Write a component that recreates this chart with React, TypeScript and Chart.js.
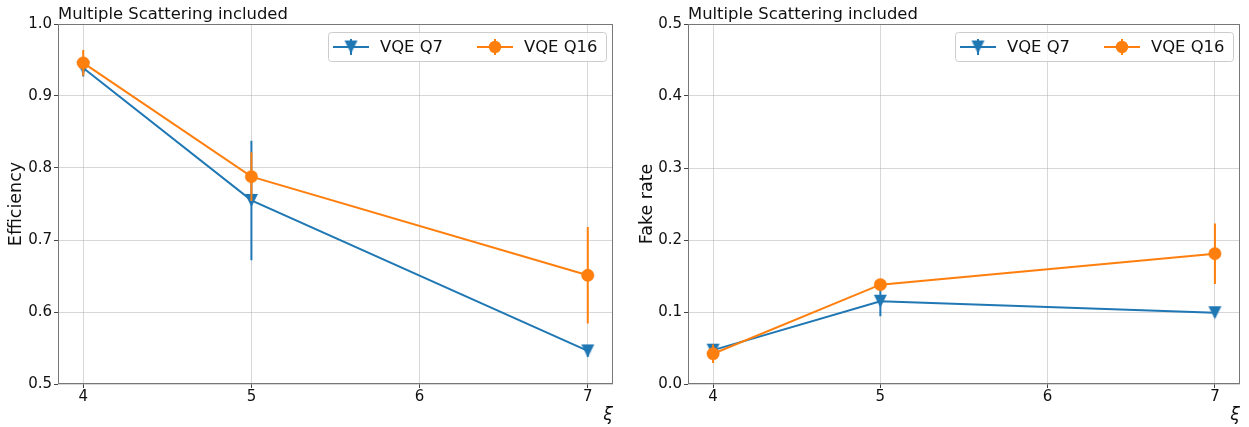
import React, { useEffect, useRef } from "react";
import { Chart, registerables } from "chart.js";

Chart.register(...registerables);

// ---------- data ----------
const xValues = [4, 5, 7];
const seriesNames = ["VQE Q7", "VQE Q16"];

const effQ7 = [0.939, 0.755, 0.546];
const effQ7Err = [0.012, 0.083, 0.008];
const effQ16 = [0.946, 0.788, 0.651];
const effQ16Err = [0.018, 0.034, 0.067];

const fakeQ7 = [0.047, 0.115, 0.099];
const fakeQ7Err = [0.008, 0.021, 0.006];
const fakeQ16 = [0.042, 0.138, 0.181];
const fakeQ16Err = [0.013, 0.006, 0.042];

const xTicks = [4, 5, 6, 7];
const effTicks = [0.5, 0.6, 0.7, 0.8, 0.9, 1.0];
const fakeTicks = [0.0, 0.1, 0.2, 0.3, 0.4, 0.5];

const panelTitle = "Multiple Scattering included";
const xLabel = "ξ";
const effLabel = "Efficiency";
const fakeLabel = "Fake rate";

// ---------- styles ----------
const BLUE = "#1f77b4";
const ORANGE = "#ff7f0e";
const FONT = "DejaVu Sans";
const TEXT = "#111111";
const W = 624;
const H = 427;

function makeTriangle(color: string, size: number): HTMLCanvasElement {
  const c = document.createElement("canvas");
  const s = size + 2;
  c.width = s;
  c.height = s;
  const g = c.getContext("2d")!;
  g.fillStyle = color;
  g.beginPath();
  g.moveTo(1, 1);
  g.lineTo(1 + size, 1);
  g.lineTo(s / 2, 1 + size);
  g.closePath();
  g.fill();
  return c;
}

function drawLegend(ctx: CanvasRenderingContext2D, area: any, tri: HTMLCanvasElement) {
  const w = 278;
  const h = 29;
  const x = area.right - 7 - w;
  const y = area.top + 8;
  ctx.save();
  ctx.beginPath();
  (ctx as any).roundRect(x + 0.5, y + 0.5, w, h, 3);
  ctx.fillStyle = "rgba(255,255,255,0.8)";
  ctx.fill();
  ctx.strokeStyle = "#cccccc";
  ctx.lineWidth = 1;
  ctx.stroke();
  const cy = y + h / 2 + 0.5;
  const entries = [
    { color: BLUE, marker: "tri", hx: x + 5, tx: x + 52, label: seriesNames[0] },
    { color: ORANGE, marker: "circle", hx: x + 149, tx: x + 196, label: seriesNames[1] },
  ];
  for (const e of entries) {
    const mx = e.hx + 18;
    ctx.strokeStyle = e.color;
    ctx.lineWidth = 2;
    ctx.beginPath();
    ctx.moveTo(e.hx, cy);
    ctx.lineTo(e.hx + 36, cy);
    ctx.moveTo(mx, cy - 8);
    ctx.lineTo(mx, cy + 8);
    ctx.stroke();
    if (e.marker === "tri") {
      ctx.drawImage(tri, mx - tri.width / 2, cy - tri.height / 2);
    } else {
      ctx.fillStyle = e.color;
      ctx.beginPath();
      ctx.arc(mx, cy, 6.2, 0, Math.PI * 2);
      ctx.fill();
    }
    ctx.fillStyle = TEXT;
    ctx.font = `16.4px "${FONT}"`;
    ctx.textAlign = "left";
    ctx.textBaseline = "middle";
    ctx.fillText(e.label, e.tx, cy + 1);
  }
  ctx.restore();
}

interface PanelProps {
  left: number;
  areaLeft: number;
  padRight: number;
  yLabel: string;
  yLabelPad: number;
  yTicks: number[];
  q7: number[];
  q7Err: number[];
  q16: number[];
  q16Err: number[];
}

function Panel(props: PanelProps) {
  const ref = useRef<HTMLCanvasElement | null>(null);
  useEffect(() => {
    const canvas = ref.current!;
    const tri = makeTriangle(BLUE, 13);

    const errorBars = {
      id: "errorBars",
      beforeDatasetDraw(chart: any, args: any) {
        const ds = chart.data.datasets[args.index];
        const errs: number[] = ds.errors;
        const ys = chart.scales.y;
        const ctx = chart.ctx;
        const a = chart.chartArea;
        ctx.save();
        ctx.beginPath();
        ctx.rect(a.left, a.top, a.right - a.left, a.bottom - a.top);
        ctx.clip();
        ctx.strokeStyle = ds.borderColor;
        ctx.lineWidth = 2;
        ctx.beginPath();
        args.meta.data.forEach((pt: any, i: number) => {
          const v = ds.data[i].y;
          ctx.moveTo(pt.x, ys.getPixelForValue(v + errs[i]));
          ctx.lineTo(pt.x, ys.getPixelForValue(v - errs[i]));
        });
        ctx.stroke();
        ctx.restore();
      },
    };

    const decorations = {
      id: "decorations",
      afterDraw(chart: any) {
        const ctx = chart.ctx as CanvasRenderingContext2D;
        const a = chart.chartArea;
        ctx.save();
        // frame
        ctx.strokeStyle = "#777777";
        ctx.lineWidth = 1;
        ctx.strokeRect(Math.round(a.left) + 0.5, Math.round(a.top) + 0.5, Math.round(a.right - a.left) - 1, Math.round(a.bottom - a.top) - 1);
        // title
        ctx.fillStyle = TEXT;
        ctx.font = `16.4px "${FONT}"`;
        ctx.textAlign = "left";
        ctx.textBaseline = "alphabetic";
        ctx.fillText(panelTitle, a.left, a.top - 5);
        // x label
        ctx.font = `italic 17.5px "${FONT}"`;
        ctx.textAlign = "right";
        ctx.textBaseline = "middle";
        ctx.fillText(xLabel, a.right, 415);
        ctx.restore();
        drawLegend(ctx, a, tri);
      },
    };

    const chart = new Chart(canvas, {
      type: "line",
      data: {
        datasets: [
          {
            label: seriesNames[0],
            data: xValues.map((x, i) => ({ x, y: props.q7[i] })),
            errors: props.q7Err,
            borderColor: BLUE,
            backgroundColor: BLUE,
            borderWidth: 2,
            pointStyle: tri,
            pointRadius: 7,
            pointHoverRadius: 7,
            order: 1,
          } as any,
          {
            label: seriesNames[1],
            data: xValues.map((x, i) => ({ x, y: props.q16[i] })),
            errors: props.q16Err,
            borderColor: ORANGE,
            backgroundColor: ORANGE,
            pointBackgroundColor: ORANGE,
            pointBorderColor: ORANGE,
            borderWidth: 2,
            pointStyle: "circle",
            pointRadius: 6.2,
            pointBorderWidth: 0.5,
            pointHoverRadius: 6.2,
            order: 0,
          } as any,
        ],
      },
      options: {
        animation: false,
        responsive: false,
        events: [],
        layout: { padding: { left: 0, right: props.padRight, top: 24, bottom: 0 } },
        plugins: {
          legend: { display: false },
          tooltip: { enabled: false },
          title: { display: false },
        },
        scales: {
          x: {
            type: "linear",
            min: 3.85,
            max: 7.15,
            afterBuildTicks: (s: any) => {
              s.ticks = xTicks.map((v) => ({ value: v }));
            },
            afterFit: (s: any) => {
              s.height = 43;
            },
            ticks: {
              color: TEXT,
              font: { family: FONT, size: 15 },
              padding: 0,
              maxRotation: 0,
              callback: (v: any) => String(v),
            },
            grid: {
              color: "rgba(176,176,176,0.5)",
              lineWidth: 1,
              tickLength: 4,
              tickColor: "#444444",
            },
            border: { display: false },
          },
          y: {
            type: "linear",
            min: props.yTicks[0],
            max: props.yTicks[props.yTicks.length - 1],
            afterBuildTicks: (s: any) => {
              s.ticks = props.yTicks.map((v) => ({ value: v }));
            },
            afterFit: (s: any) => {
              s.width = props.areaLeft;
            },
            ticks: {
              color: TEXT,
              font: { family: FONT, size: 15 },
              padding: 2,
              callback: (v: any) => Number(v).toFixed(1),
            },
            grid: {
              color: "rgba(176,176,176,0.5)",
              lineWidth: 1,
              tickLength: 4,
              tickColor: "#444444",
            },
            border: { display: false },
            title: {
              display: true,
              text: props.yLabel,
              color: TEXT,
              font: { family: FONT, size: 17.5 },
              padding: { top: props.yLabelPad, bottom: 0 },
            },
          },
        },
      } as any,
      plugins: [errorBars, decorations],
    });
    return () => chart.destroy();
  }, []);
  return (
    <canvas
      ref={ref}
      width={W}
      height={H}
      style={{ position: "absolute", left: props.left, top: 0, width: W, height: H }}
    />
  );
}

export default function App() {
  return (
    <div style={{ position: "absolute", left: 0, top: 0, width: 1249, height: 427, background: "#ffffff" }}>
      <Panel
        left={0}
        areaLeft={58}
        padRight={11}
        yLabel={effLabel}
        yLabelPad={5.5}
        yTicks={effTicks}
        q7={effQ7}
        q7Err={effQ7Err}
        q16={effQ16}
        q16Err={effQ16Err}
      />
      <Panel
        left={625}
        areaLeft={63}
        padRight={5}
        yLabel={fakeLabel}
        yLabelPad={11.5}
        yTicks={fakeTicks}
        q7={fakeQ7}
        q7Err={fakeQ7Err}
        q16={fakeQ16}
        q16Err={fakeQ16Err}
      />
    </div>
  );
}
